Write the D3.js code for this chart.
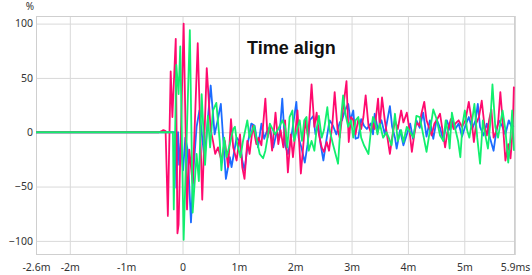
<!DOCTYPE html>
<html>
<head>
<meta charset="utf-8">
<script src="https://cdn.jsdelivr.net/npm/d3@7"></script>
<style>
  body { margin: 0; background: #fff; }
  .tick text { font-family: 'Noto Sans', sans-serif; font-size: 10.5px; fill: #333; }
  .tick line { stroke: #d9d9d9; }
</style>
</head>
<body>
<div id="chart"></div>
<script>
const width = 532
const height = 275
const plot = { left: 36, right: 515, top: 16, bottom: 255 }

const xTicks = [-2.6, -2, -1, 0, 1, 2, 3, 4, 5, 5.9]
const xTickLabels = ['-2.6m', '-2m', '-1m', '0', '1m', '2m', '3m', '4m', '5m', '5.9ms']
const yTicks = [100, 50, 0, -50, -100]

// [time in ms, level in %], turning points
const pinkTrace = [[-2.6, 0], [-0.42, 0], [-0.37, 1], [-0.34, 2], [-0.30, 1], [-0.26, -77], [-0.21, 56], [-0.18, 14], [-0.12, 86], [-0.09, -93], [-0.07, -85], [0.02, 100], [0.08, -71], [0.12, -16], [0.18, -47], [0.27, 82], [0.35, -62], [0.43, 59], [0.50, 2], [0.54, -8], [0.58, -20], [0.63, -14], [0.69, -26], [0.75, -8], [0.81, -32], [0.86, 12], [0.90, -14], [0.96, -26], [1.02, -2], [1.06, -32], [1.10, -43], [1.15, -8], [1.19, -20], [1.25, 6], [1.31, -11], [1.35, -5], [1.40, -12], [1.47, 31], [1.51, -5], [1.55, 5], [1.59, -17], [1.65, 18], [1.70, -11], [1.74, 2], [1.79, -14], [1.82, 11], [1.87, -37], [1.92, -2], [1.96, -23], [2.04, 20], [2.10, -38], [2.14, -14], [2.18, 11], [2.23, -5], [2.29, 44], [2.34, 5], [2.38, 18], [2.42, -2], [2.47, -14], [2.51, -18], [2.56, -9], [2.60, -17], [2.66, 8], [2.70, 37], [2.75, 3], [2.79, -5], [2.83, 14], [2.91, 47], [2.95, -9], [2.99, 14], [3.03, 11], [3.07, -2], [3.12, 12], [3.17, 3], [3.21, 14], [3.25, 34], [3.30, 6], [3.34, 0], [3.38, 8], [3.41, 3], [3.47, 31], [3.50, 5], [3.54, 32], [3.59, 11], [3.68, -20], [3.72, -5], [3.77, 11], [3.82, 3], [3.88, 20], [3.92, 9], [3.98, 18], [4.02, 5], [4.07, -18], [4.11, -3], [4.15, 9], [4.20, 6], [4.24, 17], [4.29, 28], [4.33, 11], [4.37, 5], [4.42, -3], [4.47, 8], [4.51, 11], [4.57, 17], [4.61, 3], [4.66, -14], [4.70, 0], [4.76, 12], [4.81, 3], [4.84, 8], [4.90, 11], [4.96, 5], [5.02, 11], [5.08, 28], [5.13, 11], [5.17, -9], [5.21, 8], [5.26, 14], [5.31, 29], [5.36, 5], [5.40, -3], [5.44, 11], [5.48, 21], [5.52, -5], [5.56, 0], [5.60, 8], [5.64, 37], [5.68, 11], [5.73, -26], [5.78, -11], [5.82, -24], [5.86, 2], [5.88, 42]]

const blueTrace = [[-2.6, 0], [-0.13, 0], [-0.11, -51], [-0.08, 0], [-0.06, -30], [-0.03, -10], [0.01, -35], [0.05, -5], [0.09, -16], [0.15, -83], [0.20, -30], [0.25, 5], [0.30, 20], [0.39, -25], [0.50, 43], [0.57, -2], [0.62, 10], [0.68, 26], [0.77, -43], [0.84, -23], [0.87, -32], [0.96, -5], [1.02, -9], [1.06, -26], [1.10, -35], [1.16, -10], [1.22, 8], [1.28, 6], [1.34, -14], [1.40, 8], [1.45, -6], [1.49, 0], [1.55, 5], [1.61, -14], [1.67, 0], [1.72, -5], [1.77, 31], [1.82, -12], [1.87, -20], [1.93, -5], [2.02, 28], [2.06, -5], [2.11, -14], [2.17, -28], [2.22, -11], [2.26, 11], [2.32, 15], [2.36, -2], [2.41, 6], [2.45, -11], [2.50, -26], [2.56, -5], [2.61, 11], [2.67, 6], [2.73, -2], [2.79, 9], [2.83, 11], [2.88, 20], [2.94, 26], [2.98, 11], [3.03, 20], [3.07, -6], [3.12, -5], [3.17, 12], [3.22, 6], [3.27, 3], [3.34, 8], [3.38, -2], [3.41, 17], [3.47, 2], [3.53, 11], [3.59, -2], [3.68, 24], [3.72, 5], [3.77, -5], [3.80, -15], [3.86, 2], [3.92, -12], [3.98, -2], [4.04, 8], [4.09, -6], [4.15, 11], [4.21, 4], [4.27, 18], [4.33, -4], [4.39, 11], [4.45, -6], [4.51, 12], [4.57, 4], [4.63, -8], [4.69, 11], [4.75, 2], [4.78, 11], [4.84, 3], [4.90, 8], [4.96, -4], [5.02, 6], [5.08, 14], [5.14, 3], [5.20, 11], [5.24, 26], [5.28, 5], [5.34, -3], [5.40, 8], [5.46, -6], [5.52, -17], [5.56, -2], [5.61, 11], [5.67, 6], [5.73, -2], [5.79, 11], [5.84, 5], [5.88, 6]]

const greenTrace = [[-2.6, 0], [-0.17, 0], [-0.155, -71], [-0.11, 62], [-0.07, 35], [-0.04, 79], [0.02, -99], [0.13, 94], [0.18, -74], [0.25, -20], [0.29, -45], [0.34, 35], [0.40, -30], [0.45, 15], [0.49, -14], [0.54, 20], [0.60, 27], [0.66, -8], [0.69, -35], [0.74, -5], [0.78, -23], [0.84, -11], [0.90, 3], [0.93, 5], [0.97, -11], [1.03, -23], [1.07, -9], [1.15, 11], [1.19, -5], [1.27, 6], [1.31, -5], [1.37, -20], [1.43, -24], [1.47, -17], [1.55, 8], [1.64, -2], [1.70, 3], [1.77, 11], [1.82, 5], [1.86, -14], [1.90, 14], [1.95, 20], [1.98, -8], [2.02, 0], [2.08, 11], [2.12, -8], [2.16, 11], [2.20, 14], [2.24, -17], [2.29, -8], [2.34, -17], [2.38, 3], [2.42, 15], [2.47, -5], [2.51, 2], [2.57, 23], [2.61, 2], [2.67, -11], [2.70, -17], [2.76, -29], [2.81, 11], [2.85, 34], [2.89, 17], [2.94, 5], [2.99, 11], [3.03, -5], [3.07, 11], [3.12, 14], [3.17, -5], [3.22, -12], [3.30, -20], [3.34, 0], [3.38, 14], [3.41, 11], [3.46, -2], [3.50, 8], [3.56, -5], [3.62, 0], [3.66, -5], [3.71, -12], [3.77, 17], [3.82, -8], [3.88, 2], [3.92, -9], [3.98, 5], [4.04, 0], [4.10, -5], [4.15, 15], [4.21, 14], [4.27, -2], [4.33, -18], [4.37, -5], [4.42, 11], [4.45, 21], [4.51, 12], [4.57, -3], [4.63, -8], [4.67, 11], [4.72, -2], [4.74, -15], [4.78, 18], [4.84, 3], [4.89, -8], [4.93, -23], [4.97, 8], [5.01, 20], [5.05, 2], [5.09, -5], [5.14, 11], [5.18, 26], [5.23, -5], [5.28, -29], [5.33, 11], [5.37, -2], [5.42, -15], [5.46, 8], [5.50, 44], [5.55, 5], [5.60, -5], [5.64, 8], [5.68, 20], [5.73, 2], [5.78, -28], [5.82, -5], [5.85, 20], [5.88, -17]]

const series = [
  { name: 'blue', color: '#1c6cff', points: blueTrace },
  { name: 'pink', color: '#ff0a6e', points: pinkTrace },
  { name: 'green', color: '#12ef6e', points: greenTrace }
]

const x = d3.scaleLinear().domain([-2.6, 5.9]).range([plot.left, plot.right])
const y = d3.scaleLinear().domain([-113, 107]).range([plot.bottom, plot.top])

const svg = d3.select('#chart')
  .append('svg')
  .attr('width', width)
  .attr('height', height)

const xAxis = d3.axisBottom(x)
  .tickValues(xTicks)
  .tickFormat((d, i) => xTickLabels[i])
  .tickSizeInner(-(plot.bottom - plot.top))
  .tickSizeOuter(0)
  .tickPadding(9)

const yAxis = d3.axisLeft(y)
  .tickValues(yTicks)
  .tickSizeInner(-(plot.right - plot.left))
  .tickSizeOuter(0)
  .tickPadding(3)

svg.append('g')
  .attr('transform', `translate(0,${plot.bottom})`)
  .call(xAxis)
  .call((g) => g.select('.domain').remove())

svg.append('g')
  .attr('transform', `translate(${plot.left},0)`)
  .call(yAxis)
  .call((g) => g.select('.domain').remove())

svg.append('rect')
  .attr('x', plot.left + 0.5)
  .attr('y', plot.top + 0.5)
  .attr('width', plot.right - plot.left - 1)
  .attr('height', plot.bottom - plot.top - 1)
  .attr('fill', 'none')
  .attr('stroke', '#cfcfcf')

svg.append('clipPath')
  .attr('id', 'plot-clip')
  .append('rect')
  .attr('x', plot.left)
  .attr('y', plot.top)
  .attr('width', plot.right - plot.left)
  .attr('height', plot.bottom - plot.top)

const line = d3.line()
  .x((d) => x(d[0]))
  .y((d) => y(d[1]))

svg.append('g')
  .attr('clip-path', 'url(#plot-clip)')
  .selectAll('path')
  .data(series)
  .enter()
  .append('path')
  .attr('d', (d) => line(d.points))
  .attr('fill', 'none')
  .attr('stroke', (d) => d.color)
  .attr('stroke-width', 1.8)
  .attr('stroke-linejoin', 'round')

svg.append('text')
  .attr('x', 30)
  .attr('y', 10)
  .attr('text-anchor', 'middle')
  .attr('font-family', "'Noto Sans', sans-serif")
  .attr('font-size', 10)
  .attr('fill', '#333')
  .text('%')

svg.append('text')
  .attr('x', 247)
  .attr('y', 54)
  .attr('font-family', "'Liberation Sans', Arial, sans-serif")
  .attr('font-size', 18)
  .attr('font-weight', 'bold')
  .attr('fill', '#111')
  .text('Time align')
</script>
</body>
</html>
